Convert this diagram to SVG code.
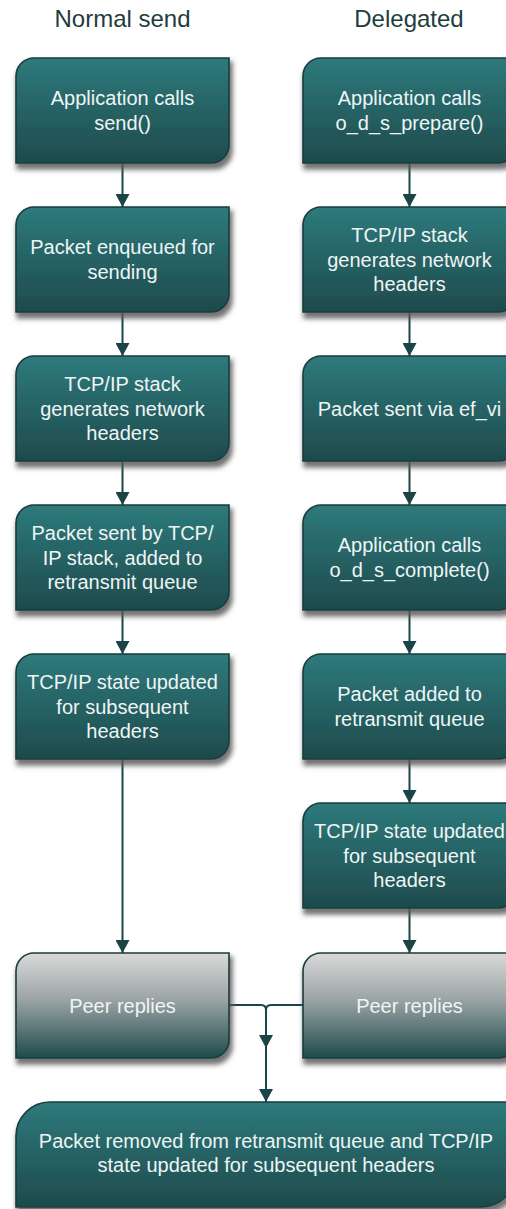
<svg xmlns="http://www.w3.org/2000/svg" xmlns:xlink="http://www.w3.org/1999/xlink" width="506" height="1209" viewBox="0 0 506 1209">
<style>
.title{font-family:"Liberation Sans",Arial,sans-serif;font-size:24px;fill:#1f3c3e;text-anchor:middle}
.lbl{font-family:"Liberation Sans",Arial,sans-serif;font-size:20px;fill:#eef5f5;text-anchor:middle}
.teal{fill:url(#gTeal);stroke:#173d3f;stroke-width:1.6;filter:url(#sh)}
.grey{fill:url(#gGrey);stroke:#173d3f;stroke-width:1.6;filter:url(#sh)}
.con{fill:none;stroke:#1a4446;stroke-width:2;marker-end:url(#arr)}
</style>
<defs>
<linearGradient id="gTeal" x1="0" y1="0" x2="0" y2="1">
<stop offset="0" stop-color="#2e7a7c"/>
<stop offset="1" stop-color="#1e4a4c"/>
</linearGradient>
<linearGradient id="gGrey" x1="0" y1="0" x2="0" y2="1">
<stop offset="0" stop-color="#dadada"/>
<stop offset="0.45" stop-color="#9aa3a3"/>
<stop offset="1" stop-color="#1e4a4c"/>
</linearGradient>
<filter id="sh" x="-10%" y="-10%" width="125%" height="130%">
<feMorphology in="SourceAlpha" operator="dilate" radius="1" result="d"/>
<feGaussianBlur in="d" stdDeviation="2.5"/>
<feOffset dx="2" dy="5" result="b"/>
<feFlood flood-color="#5a5a5a" flood-opacity="0.85"/>
<feComposite in2="b" operator="in"/>
<feMerge><feMergeNode/><feMergeNode in="SourceGraphic"/></feMerge>
</filter>
<marker id="arr" markerUnits="userSpaceOnUse" markerWidth="14" markerHeight="14" refX="13" refY="7" orient="auto">
<path d="M0,0 L13,7 L0,14 Z" fill="#1a4446"/>
</marker>
<path id="box" d="M0,105 V18 A18,18 0 0 1 18,0 H213 V87 A18,18 0 0 1 195,105 Z"/>
</defs>

<text class="title" x="122.5" y="27">Normal send</text>
<text class="title" x="409" y="27">Delegated</text>

<g id="connectors">
<path class="con" d="M122.5,163 V207"/>
<path class="con" d="M122.5,312 V356"/>
<path class="con" d="M122.5,461 V505"/>
<path class="con" d="M122.5,610 V654"/>
<path class="con" d="M122.5,759 V953"/>
<path class="con" d="M409.5,163 V207"/>
<path class="con" d="M409.5,312 V356"/>
<path class="con" d="M409.5,461 V505"/>
<path class="con" d="M409.5,610 V654"/>
<path class="con" d="M409.5,759 V803"/>
<path class="con" d="M409.5,908 V953"/>
<path class="con" d="M229,1005 H261 Q266,1005 266,1010 V1102"/>
<path class="con" d="M303,1005 H271 Q266,1005 266,1010 V1048"/>
</g>

<g id="l1"><use xlink:href="#box" x="16" y="58" class="teal"/>
<text class="lbl" x="122.5" y="105.25">Application calls</text><text class="lbl" x="122.5" y="129.75">send()</text></g>
<g id="l2"><use xlink:href="#box" x="16" y="207" class="teal"/>
<text class="lbl" x="122.5" y="254.25">Packet enqueued for</text><text class="lbl" x="122.5" y="278.75">sending</text></g>
<g id="l3"><use xlink:href="#box" x="16" y="356" class="teal"/>
<text class="lbl" x="122.5" y="391">TCP/IP stack</text><text class="lbl" x="122.5" y="415.5">generates network</text><text class="lbl" x="122.5" y="440">headers</text></g>
<g id="l4"><use xlink:href="#box" x="16" y="505" class="teal"/>
<text class="lbl" x="122.5" y="540">Packet sent by TCP/</text><text class="lbl" x="122.5" y="564.5">IP stack, added to</text><text class="lbl" x="122.5" y="589">retransmit queue</text></g>
<g id="l5"><use xlink:href="#box" x="16" y="654" class="teal"/>
<text class="lbl" x="122.5" y="689">TCP/IP state updated</text><text class="lbl" x="122.5" y="713.5">for subsequent</text><text class="lbl" x="122.5" y="738">headers</text></g>
<g id="l6"><use xlink:href="#box" x="16" y="953" class="grey"/>
<text class="lbl" x="122.5" y="1012.5">Peer replies</text></g>

<g id="r1"><use xlink:href="#box" x="303" y="58" class="teal"/>
<text class="lbl" x="409.5" y="105.25">Application calls</text><text class="lbl" x="409.5" y="129.75">o_d_s_prepare()</text></g>
<g id="r2"><use xlink:href="#box" x="303" y="207" class="teal"/>
<text class="lbl" x="409.5" y="242">TCP/IP stack</text><text class="lbl" x="409.5" y="266.5">generates network</text><text class="lbl" x="409.5" y="291">headers</text></g>
<g id="r3"><use xlink:href="#box" x="303" y="356" class="teal"/>
<text class="lbl" x="409.5" y="415.5">Packet sent via ef_vi</text></g>
<g id="r4"><use xlink:href="#box" x="303" y="505" class="teal"/>
<text class="lbl" x="409.5" y="552.25">Application calls</text><text class="lbl" x="409.5" y="576.75">o_d_s_complete()</text></g>
<g id="r5"><use xlink:href="#box" x="303" y="654" class="teal"/>
<text class="lbl" x="409.5" y="701.25">Packet added to</text><text class="lbl" x="409.5" y="725.75">retransmit queue</text></g>
<g id="r6"><use xlink:href="#box" x="303" y="803" class="teal"/>
<text class="lbl" x="409.5" y="838">TCP/IP state updated</text><text class="lbl" x="409.5" y="862.5">for subsequent</text><text class="lbl" x="409.5" y="887">headers</text></g>
<g id="r7"><use xlink:href="#box" x="303" y="953" class="grey"/>
<text class="lbl" x="409.5" y="1012.5">Peer replies</text></g>

<g id="final"><path class="teal" d="M16,1207 V1136 A34,34 0 0 1 50,1102 H516 V1172 A35,35 0 0 1 481,1207 Z"/>
<text class="lbl" x="266" y="1148">Packet removed from retransmit queue and TCP/IP</text><text class="lbl" x="266" y="1172">state updated for subsequent headers</text></g>
</svg>
